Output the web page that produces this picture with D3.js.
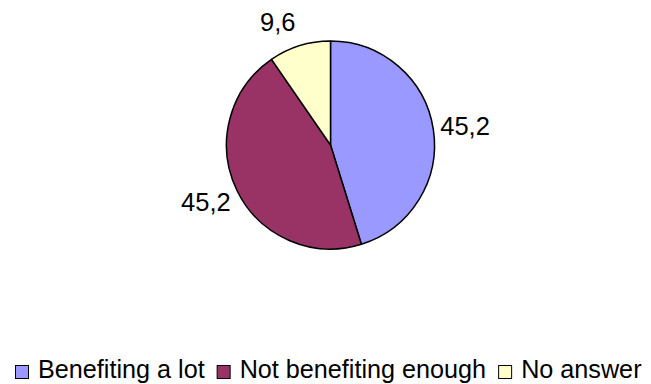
<!DOCTYPE html>
<html>
<head>
<meta charset="utf-8">
<script src="https://cdn.jsdelivr.net/npm/d3@7"></script>
<style>
  html, body { margin: 0; padding: 0; background: #fff; }
  svg { display: block; font-family: Arial, "Liberation Sans", sans-serif; }
</style>
</head>
<body>
<svg id="chart" width="651" height="384"></svg>
<script>
// Survey answers (percent)
const categories = ["Benefiting a lot", "Not benefiting enough", "No answer"];
const values = [45.2, 45.2, 9.6];
const valueLabels = ["45,2", "45,2", "9,6"];
const colors = ["#9999FF", "#993366", "#FFFFCC"];

const width = 651, height = 384;
const cx = 330.5, cy = 145, radius = 104;
const labelFont = 25.5, legendFont = 25.2;

const svg = d3.select("#chart");

const data = categories.map((c, i) => ({ name: c, value: values[i], label: valueLabels[i], color: colors[i] }));

const pie = d3.pie().sort(null).value(d => d.value).startAngle(0).endAngle(2 * Math.PI);
const arc = d3.arc().innerRadius(0).outerRadius(radius);
const labelArc = d3.arc().innerRadius(radius + 7).outerRadius(radius + 7);

const arcs = pie(data);

const g = svg.append("g").attr("transform", `translate(${cx},${cy})`);

g.selectAll("path.slice")
  .data(arcs)
  .join("path")
  .attr("class", "slice")
  .attr("d", arc)
  .attr("fill", d => d.data.color)
  .attr("stroke", "#000")
  .attr("stroke-width", 1.5)
  .attr("stroke-linejoin", "round");

// Value labels outside each slice, pushed away from the pie along the mid-angle
g.selectAll("text.value")
  .data(arcs)
  .join("text")
  .attr("class", "value")
  .each(function (d) {
    const mid = (d.startAngle + d.endAngle) / 2;
    const [x, y] = labelArc.centroid(d);
    const boxCenterY = y - Math.cos(mid) * 18;
    d3.select(this)
      .attr("x", x - (Math.sin(mid) < -0.5 || Math.sin(mid) > 0 ? 0 : 2))
      .attr("y", boxCenterY + labelFont * 0.358)
      .attr("text-anchor", Math.sin(mid) >= 0 ? "start" : "end");
  })
  .attr("font-size", labelFont)
  .attr("fill", "#000")
  .text(d => d.data.label);

// Legend along the bottom, centred
const legend = svg.append("g").attr("class", "legend");
const sw = 13, gapSwatch = 10, gapItem = 12;
let lx = 0;
const items = legend.selectAll("g.item")
  .data(data)
  .join("g")
  .attr("class", "item");

items.append("rect")
  .attr("x", 0.5)
  .attr("y", -sw + 0.5)
  .attr("width", sw)
  .attr("height", sw)
  .attr("fill", d => d.color)
  .attr("stroke", "#000")
  .attr("stroke-width", 1);

items.append("text")
  .attr("x", sw + gapSwatch)
  .attr("y", 0)
  .attr("font-size", legendFont)
  .attr("fill", "#000")
  .text(d => d.name);

items.each(function () {
  const item = d3.select(this);
  const tw = item.select("text").node().getComputedTextLength();
  item.attr("transform", `translate(${lx},0)`);
  lx += sw + gapSwatch + tw + gapItem;
});
const totalW = lx - gapItem;
legend.attr("transform", `translate(${Math.round((14 + 642) / 2 - totalW / 2)},378)`);
</script>
</body>
</html>
